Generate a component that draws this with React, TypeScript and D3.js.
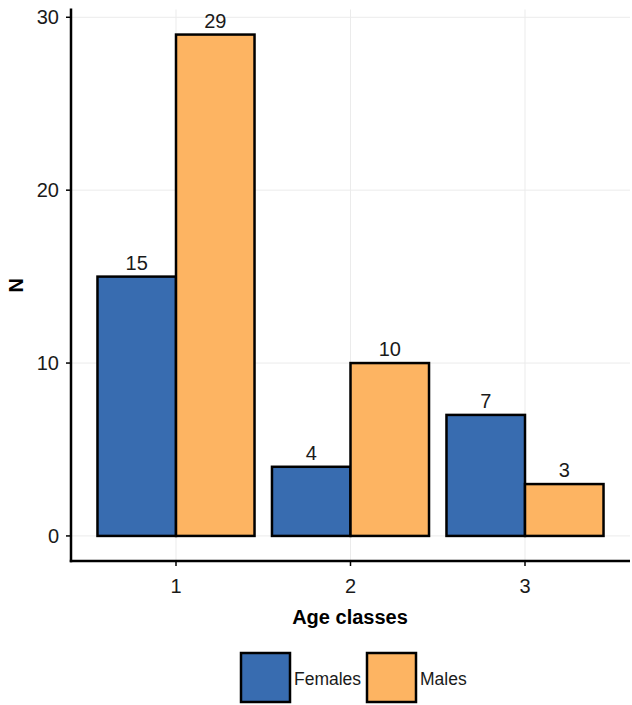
import React from "react";
import * as d3 from "d3";

const categories = ["1", "2", "3"];
const seriesNames = ["Females", "Males"];
const females = [15, 4, 7];
const males = [29, 10, 3];
const yTicks = [0, 10, 20, 30];
const colors = ["#386CB0", "#FDB462"];

export default function App() {
  const W = 632, H = 705;
  const left = 71, right = 630, top = 9.5, bottom = 561;
  const x = d3.scalePoint<string>().domain(categories).range([176, 525]);
  const step = x.step();
  const bw = (step * 0.9) / 2;
  const y = d3.scaleLinear().domain([-1.45, 30.45]).range([bottom, top]);
  const series = [females, males];
  const font = "Arial, 'Liberation Sans', sans-serif";

  return (
    <svg width={W} height={H} style={{ position: "absolute", left: 0, top: 0, background: "#fff" }}>
      <rect width={W} height={H} fill="#fff" />
      {/* grid */}
      {yTicks.map((t) => (
        <line key={"gy" + t} x1={left} x2={right} y1={y(t)} y2={y(t)} stroke="#ebebeb" strokeWidth={1} />
      ))}
      {categories.map((c) => (
        <line key={"gx" + c} x1={x(c)!} x2={x(c)!} y1={top} y2={bottom} stroke="#ebebeb" strokeWidth={1} />
      ))}
      {/* bars */}
      {categories.map((c, i) =>
        series.map((s, j) => {
          const x0 = x(c)! - bw + j * bw;
          return (
            <g key={c + "-" + j}>
              <rect x={x0} y={y(s[i])} width={bw} height={y(0) - y(s[i])} fill={colors[j]} stroke="#000" strokeWidth={2.5} />
              <text x={x0 + bw / 2} y={y(s[i]) - 7} textAnchor="middle" fontFamily={font} fontSize={20} fill="#1a1a1a">
                {s[i]}
              </text>
            </g>
          );
        })
      )}
      {/* axes */}
      <line x1={left} x2={left} y1={top - 1} y2={bottom + 1.25} stroke="#000" strokeWidth={2.5} />
      <line x1={left - 1.25} x2={right} y1={bottom} y2={bottom} stroke="#000" strokeWidth={2.5} />
      {yTicks.map((t) => (
        <g key={"yt" + t}>
          <line x1={left - 5} x2={left} y1={y(t)} y2={y(t)} stroke="#000" strokeWidth={1.5} />
          <text x={left - 12} y={y(t)} dy="0.36em" textAnchor="end" fontFamily={font} fontSize={20} fill="#1a1a1a">
            {t}
          </text>
        </g>
      ))}
      {categories.map((c) => (
        <g key={"xt" + c}>
          <line x1={x(c)!} x2={x(c)!} y1={bottom} y2={bottom + 5} stroke="#000" strokeWidth={1.5} />
          <text x={x(c)!} y={593} textAnchor="middle" fontFamily={font} fontSize={20} fill="#1a1a1a">
            {c}
          </text>
        </g>
      ))}
      <text x={350} y={624} textAnchor="middle" fontFamily={font} fontSize={20} fontWeight="bold" fill="#000">
        Age classes
      </text>
      <text transform={`translate(23,${(top + bottom) / 2}) rotate(-90)`} textAnchor="middle" fontFamily={font} fontSize={20} fontWeight="bold" fill="#000">
        N
      </text>
      {/* legend */}
      {seriesNames.map((n, j) => {
        const lx = [241, 367][j];
        return (
          <g key={n}>
            <rect x={lx} y={653} width={49} height={49} fill={colors[j]} stroke="#000" strokeWidth={2.5} />
            <text x={lx + 53} y={684.5} fontFamily={font} fontSize={17.5} fill="#1a1a1a">
              {n}
            </text>
          </g>
        );
      })}
    </svg>
  );
}
